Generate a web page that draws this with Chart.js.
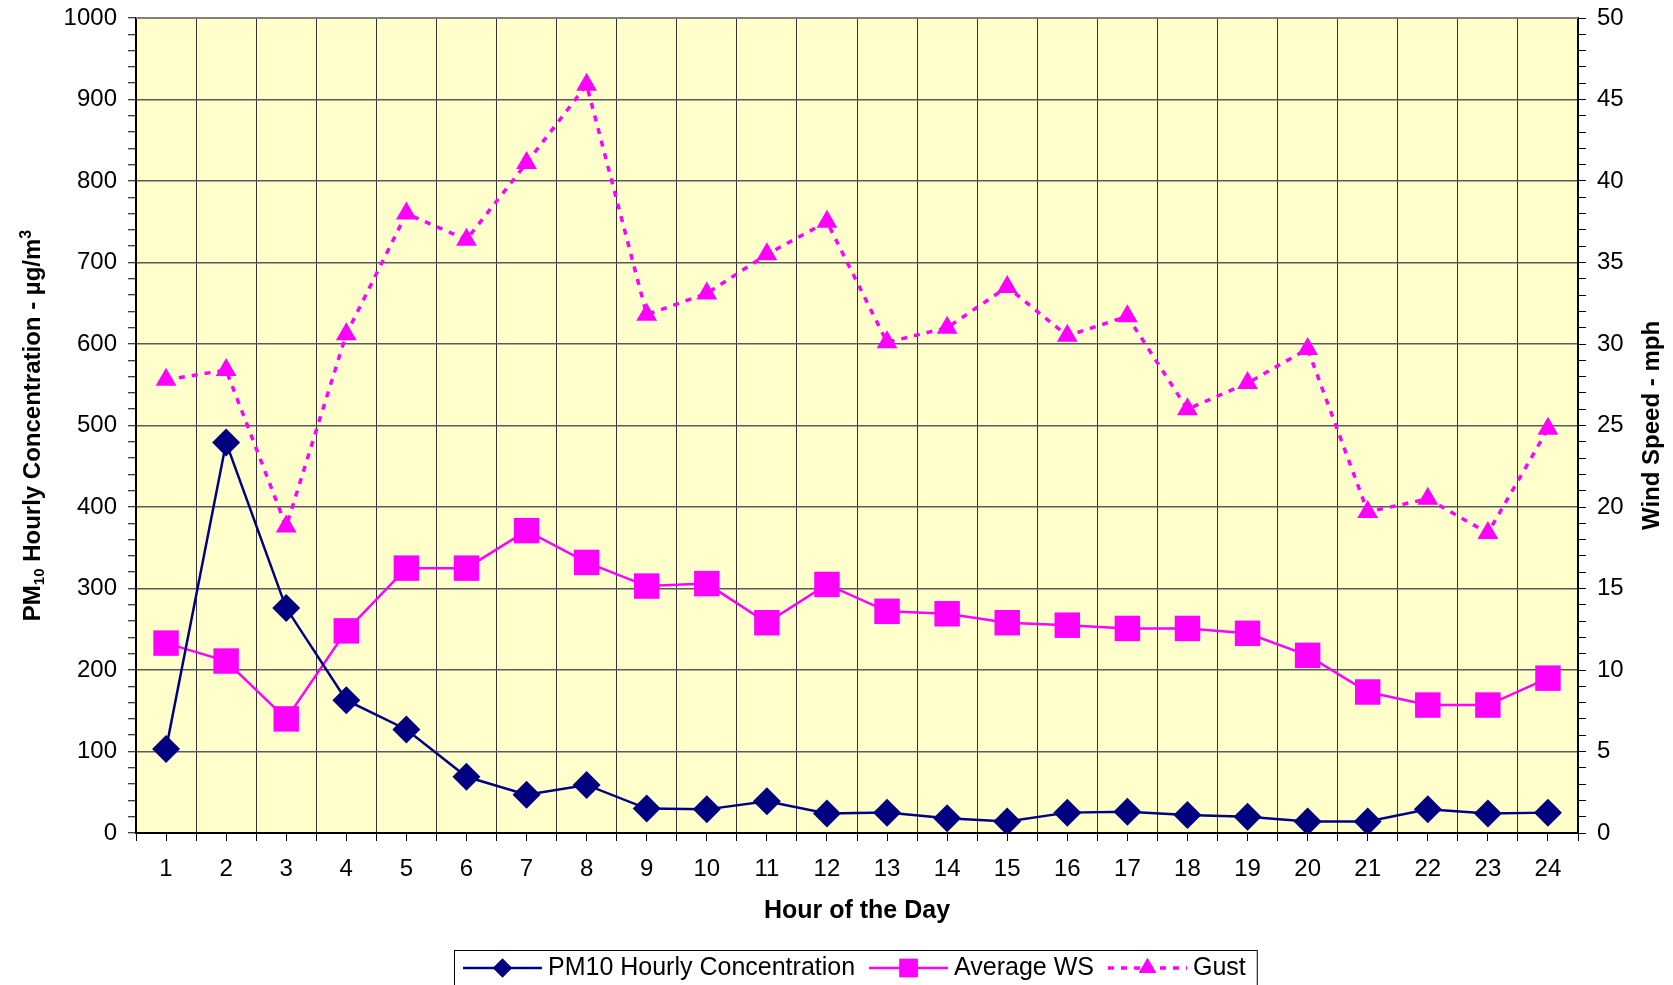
<!DOCTYPE html>
<html>
<head>
<meta charset="utf-8">
<script src="https://cdn.jsdelivr.net/npm/chart.js@4/dist/chart.umd.min.js"></script>
<style>
  html, body { margin: 0; padding: 0; background: #fff; }
  #wrap { width: 1673px; height: 985px; }
</style>
</head>
<body>
<div id="wrap"><canvas id="pmChart" width="1673" height="985"></canvas></div>
<script>
// hours of the day
const hours = ['1','2','3','4','5','6','7','8','9','10','11','12',
               '13','14','15','16','17','18','19','20','21','22','23','24'];

// PM10 hourly concentration (ug/m3), left axis
const pm10 = [103, 479, 276, 163, 127, 69, 47, 59, 30, 29, 39, 24,
              25, 18, 14, 25, 26, 22, 20, 14, 14, 29, 24, 25];

// average wind speed (mph), right axis
const avgWs = [11.65, 10.55, 7.0, 12.4, 16.25, 16.25, 18.55, 16.6, 15.15, 15.3, 12.9, 15.25,
               13.6, 13.45, 12.9, 12.75, 12.55, 12.55, 12.25, 10.9, 8.65, 7.85, 7.85, 9.5];

// gusts (mph), right axis
const gust = [27.8, 28.4, 18.8, 30.6, 38.0, 36.4, 41.1, 45.9, 31.8, 33.1, 35.5, 37.5,
              30.1, 31.0, 33.5, 30.5, 31.7, 26.0, 27.6, 29.7, 19.7, 20.5, 18.4, 24.8];

const seriesNames = ['PM10 Hourly Concentration', 'Average WS', 'Gust'];

const NAVY = '#000080';
const MAGENTA = '#FF00FF';
const FONT = 'Liberation Sans, Arial, sans-serif';

// yellow plot background + grey top edge
const plotBackground = {
    id: 'plotBackground',
    beforeDraw(chart) {
        const {ctx, chartArea: a} = chart;
        ctx.save();
        ctx.fillStyle = '#fff';
        ctx.fillRect(0, 0, chart.width, chart.height);
        ctx.fillStyle = '#FFFFCC';
        ctx.fillRect(a.left, a.top, a.right - a.left, a.bottom - a.top);
        ctx.restore();
    },
    beforeDatasetsDraw(chart) {
        const {ctx, chartArea: a} = chart;
        ctx.save();
        ctx.strokeStyle = '#808080';
        ctx.lineWidth = 2;
        ctx.beginPath();
        ctx.moveTo(a.left, a.top);
        ctx.lineTo(a.right, a.top);
        ctx.stroke();
        ctx.restore();
    }
};

// vertical axis titles (left one needs sub/superscripts)
const axisTitles = {
    id: 'axisTitles',
    afterDraw(chart) {
        const {ctx, chartArea: a} = chart;
        const cy = (a.top + a.bottom) / 2;
        ctx.save();
        ctx.fillStyle = '#000';
        ctx.textBaseline = 'alphabetic';

        // left
        const parts = [
            {t: 'PM', f: 'bold 24px ' + FONT, dy: 0},
            {t: '10', f: 'bold 15px ' + FONT, dy: 4},
            {t: ' Hourly Concentration - µg/m', f: 'bold 24px ' + FONT, dy: 0},
            {t: '3', f: 'bold 16px ' + FONT, dy: -9}
        ];
        let total = 0;
        parts.forEach(p => { ctx.font = p.f; p.w = ctx.measureText(p.t).width; total += p.w; });
        ctx.save();
        ctx.translate(31, cy);
        ctx.rotate(-Math.PI / 2);
        let x = -total / 2;
        parts.forEach(p => {
            ctx.font = p.f;
            ctx.textAlign = 'left';
            ctx.fillText(p.t, x, 8.5 + p.dy);
            x += p.w;
        });
        ctx.restore();

        // right
        ctx.save();
        ctx.translate(1650, cy);
        ctx.rotate(-Math.PI / 2);
        ctx.font = 'bold 24px ' + FONT;
        ctx.textAlign = 'center';
        ctx.fillText('Wind Speed - mph', 0, 8.5);
        ctx.restore();

        ctx.restore();
    }
};

// boxed legend with line + marker samples
const boxedLegend = {
    id: 'boxedLegend',
    afterDraw(chart) {
        const {ctx} = chart;
        const y = 968;
        let x = 463;
        ctx.save();
        ctx.font = '25px ' + FONT;
        ctx.textBaseline = 'middle';
        ctx.textAlign = 'left';
        const left = x - 9;
        chart.data.datasets.forEach(ds => {
            ctx.save();
            ctx.strokeStyle = ds.borderColor;
            ctx.lineWidth = ds.borderWidth;
            ctx.setLineDash(ds.borderDash || []);
            ctx.beginPath();
            ctx.moveTo(x, y);
            ctx.lineTo(x + 79, y);
            ctx.stroke();
            ctx.setLineDash([]);
            ctx.fillStyle = ds.backgroundColor;
            Chart.helpers.drawPoint(ctx, {
                pointStyle: ds.pointStyle,
                radius: ds.legendRadius,
                rotation: 0,
                borderWidth: 0
            }, x + 39.5, y);
            ctx.fill();
            ctx.restore();
            ctx.fillStyle = '#000';
            ctx.fillText(ds.label, x + 85, y);
            x += 85 + ctx.measureText(ds.label).width + 14;
        });
        const right = x - 14 + 11;
        ctx.strokeStyle = '#000';
        ctx.lineWidth = 1;
        ctx.strokeRect(left + 0.5, 950.5, right - left, 50);
        ctx.restore();
    }
};

const ctx = document.getElementById('pmChart').getContext('2d');

new Chart(ctx, {
    type: 'line',
    data: {
        labels: hours,
        datasets: [
            {
                label: seriesNames[0],
                data: pm10,
                yAxisID: 'y',
                borderColor: NAVY,
                backgroundColor: NAVY,
                borderWidth: 2.5,
                pointStyle: 'rectRot',
                pointRadius: 14,
                pointBorderWidth: 0,
                legendRadius: 9.5,
                tension: 0
            },
            {
                label: seriesNames[1],
                data: avgWs,
                yAxisID: 'y1',
                borderColor: MAGENTA,
                backgroundColor: MAGENTA,
                borderWidth: 2.5,
                pointStyle: 'rect',
                pointRadius: 18,
                pointBorderWidth: 0,
                legendRadius: 13,
                tension: 0
            },
            {
                label: seriesNames[2],
                data: gust,
                yAxisID: 'y1',
                borderColor: MAGENTA,
                backgroundColor: MAGENTA,
                borderWidth: 3.5,
                borderDash: [6, 7],
                pointStyle: 'triangle',
                pointRadius: 12,
                pointBorderWidth: 0,
                legendRadius: 10,
                tension: 0
            }
        ]
    },
    options: {
        responsive: false,
        animation: false,
        devicePixelRatio: 1,
        layout: { padding: { top: 18, left: 0, right: 0, bottom: 35 } },
        plugins: {
            legend: { display: false },
            tooltip: { enabled: false }
        },
        scales: {
            // tick marks at the category centres
            xc: {
                type: 'category',
                position: 'bottom',
                weight: -1,
                offset: true,
                grid: { offset: false, drawOnChartArea: false, tickLength: 8, tickColor: '#000', tickWidth: 1 },
                border: { display: false },
                ticks: { display: false },
                afterFit(scale) { scale.height = 0; }
            },
            x: {
                type: 'category',
                position: 'bottom',
                offset: true,
                grid: { offset: true, color: '#333', lineWidth: 1, tickLength: 8, tickColor: '#000' },
                border: { color: '#000', width: 2 },
                ticks: {
                    color: '#000',
                    font: { family: FONT, size: 24 },
                    padding: 14,
                    maxRotation: 0,
                    autoSkip: false
                },
                title: {
                    display: true,
                    text: 'Hour of the Day',
                    color: '#000',
                    font: { family: FONT, size: 25, weight: 'bold' },
                    padding: { top: 4, bottom: 24 }
                },
                afterFit(scale) { scale.height = 117; }
            },
            y: {
                position: 'left',
                min: 0,
                max: 1000,
                grid: {
                    color: c => (c.tick && c.tick.value % 100 === 0) ? '#5a5a5a' : 'rgba(0,0,0,0)',
                    lineWidth: 1.5,
                    tickColor: '#000',
                    tickWidth: 1,
                    tickLength: 8
                },
                border: { color: '#000', width: 2 },
                ticks: {
                    stepSize: 20,
                    maxTicksLimit: 100,
                    autoSkip: false,
                    padding: 11,
                    color: '#000',
                    font: { family: FONT, size: 24, lineHeight: 0.5 },
                    callback: v => (v % 100 === 0 ? v : '')
                },
                afterFit(scale) { scale.width = 136; }
            },
            y1: {
                position: 'right',
                min: 0,
                max: 50,
                grid: { drawOnChartArea: false, tickColor: '#000', tickWidth: 1, tickLength: 8 },
                border: { color: '#000', width: 2 },
                ticks: {
                    stepSize: 1,
                    maxTicksLimit: 100,
                    autoSkip: false,
                    padding: 11,
                    color: '#000',
                    font: { family: FONT, size: 24, lineHeight: 0.5 },
                    callback: v => (v % 5 === 0 ? v : '')
                },
                afterFit(scale) { scale.width = 95; }
            }
        }
    },
    plugins: [plotBackground, axisTitles, boxedLegend]
});
</script>
</body>
</html>
